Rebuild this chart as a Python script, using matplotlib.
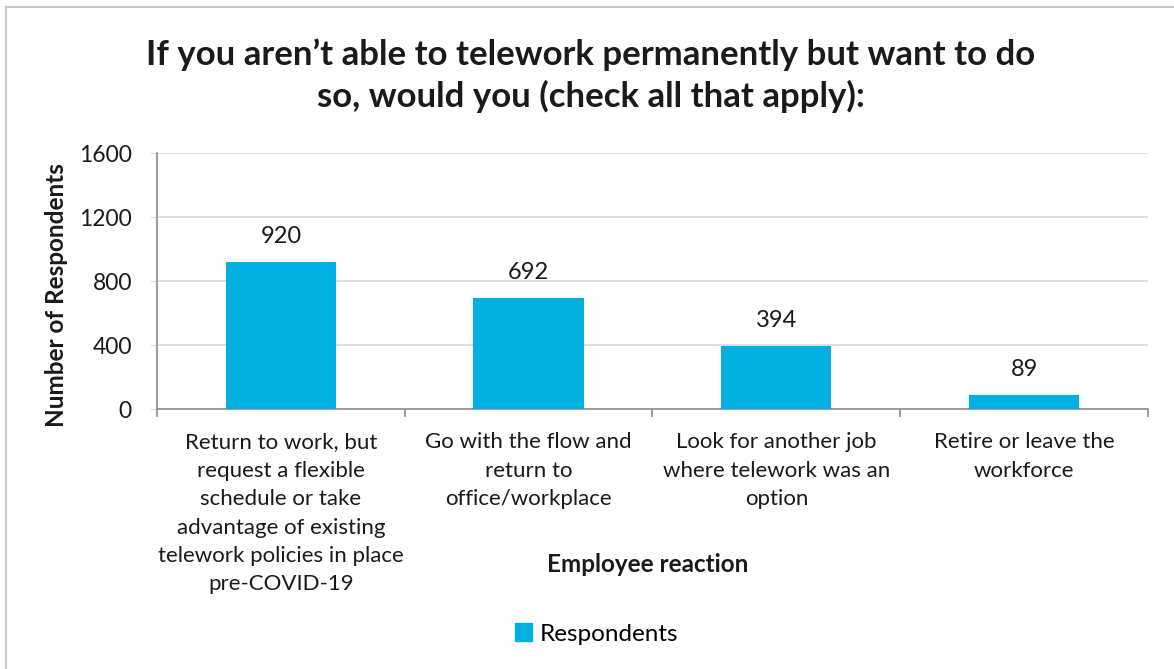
import matplotlib

matplotlib.use("Agg")
import matplotlib.pyplot as plt  # noqa: E402
from matplotlib.lines import Line2D  # noqa: E402
from matplotlib.patches import Patch  # noqa: E402

categories = [
    "Return to work, but\nrequest a flexible\nschedule or take\nadvantage of existing\ntelework policies in place\npre-COVID-19",
    "Go with the flow and\nreturn to\noffice/workplace",
    "Look for another job\nwhere telework was an\noption",
    "Retire or leave the\nworkforce",
]
respondents = [920, 692, 394, 89]
yticks = [0, 400, 800, 1200, 1600]

title = "If you aren\u2019t able to telework permanently but want to do\nso, would you (check all that apply):"
BAR = "#00B0DE"
TXT = "#1a1a1a"

plt.rcParams["font.family"] = ["Lato", "DejaVu Sans"]

fig = plt.figure(figsize=(11.74, 6.69), dpi=100)
ax = fig.add_axes([0.1337, 0.3886, 0.8441, 0.3827])

x = list(range(len(categories)))
bars = ax.bar(x, respondents, width=0.445, color=BAR, zorder=3)
for b, v in zip(bars, respondents):
    ax.annotate(str(v), (b.get_x() + b.get_width() / 2, v),
                xytext=(0, 11), textcoords="offset points",
                ha="center", va="bottom", fontsize=17, color=TXT)

ax.set_xlim(-0.5, len(categories) - 0.5)
ax.set_ylim(0, 1600)
ax.set_yticks(yticks)
ax.set_yticklabels([str(t) for t in yticks], fontsize=16.5, color=TXT)
ax.grid(axis="y", color="#d9d9d9", lw=1.2, zorder=0)
ax.tick_params(axis="y", length=5, color="#d9d9d9", pad=13)

# category boundaries as ticks, labels drawn separately
ax.set_xticks([i - 0.5 for i in range(len(categories) + 1)])
ax.set_xticklabels([])
ax.tick_params(axis="x", length=6, color="#8c8c8c", width=1.2)
for i, lab in enumerate(categories):
    ax.text(i, -0.09, lab, transform=ax.get_xaxis_transform(),
            ha="center", va="top", fontsize=16, color=TXT, linespacing=1.53)

for s in ["top", "right"]:
    ax.spines[s].set_visible(False)
ax.spines["left"].set_color("#8c8c8c")
ax.spines["bottom"].set_color("#8c8c8c")
ax.spines["left"].set_linewidth(1.2)
ax.spines["bottom"].set_linewidth(1.2)

ax.set_ylabel("Number of Respondents", fontsize=17.5, fontweight="bold",
              color=TXT)
ax.yaxis.set_label_coords(-0.09, 0.445)
fig.text(0.552, 1 - 565 / 669, "Employee reaction", ha="center", va="center",
         fontsize=17.5, fontweight="bold", color=TXT)

fig.text(0.503, 1 - 76 / 669, title, ha="center", va="center",
         fontsize=25, fontweight="bold", color=TXT, linespacing=1.32)

fig.legend(handles=[Patch(color=BAR, label="Respondents")],
           loc="center", bbox_to_anchor=(0.508, 1 - 634 / 669),
           frameon=False, fontsize=17.5, handlelength=0.7, handleheight=0.7,
           handletextpad=0.3)

# chart frame
fig.add_artist(Line2D([6 / 1174, 1], [1 - 7 / 669] * 2, color="#c8c8c8",
                      lw=1.5, transform=fig.transFigure))
fig.add_artist(Line2D([6 / 1174] * 2, [0, 1 - 7 / 669], color="#c8c8c8",
                      lw=1.5, transform=fig.transFigure))

fig.savefig("out.png", dpi=100)
